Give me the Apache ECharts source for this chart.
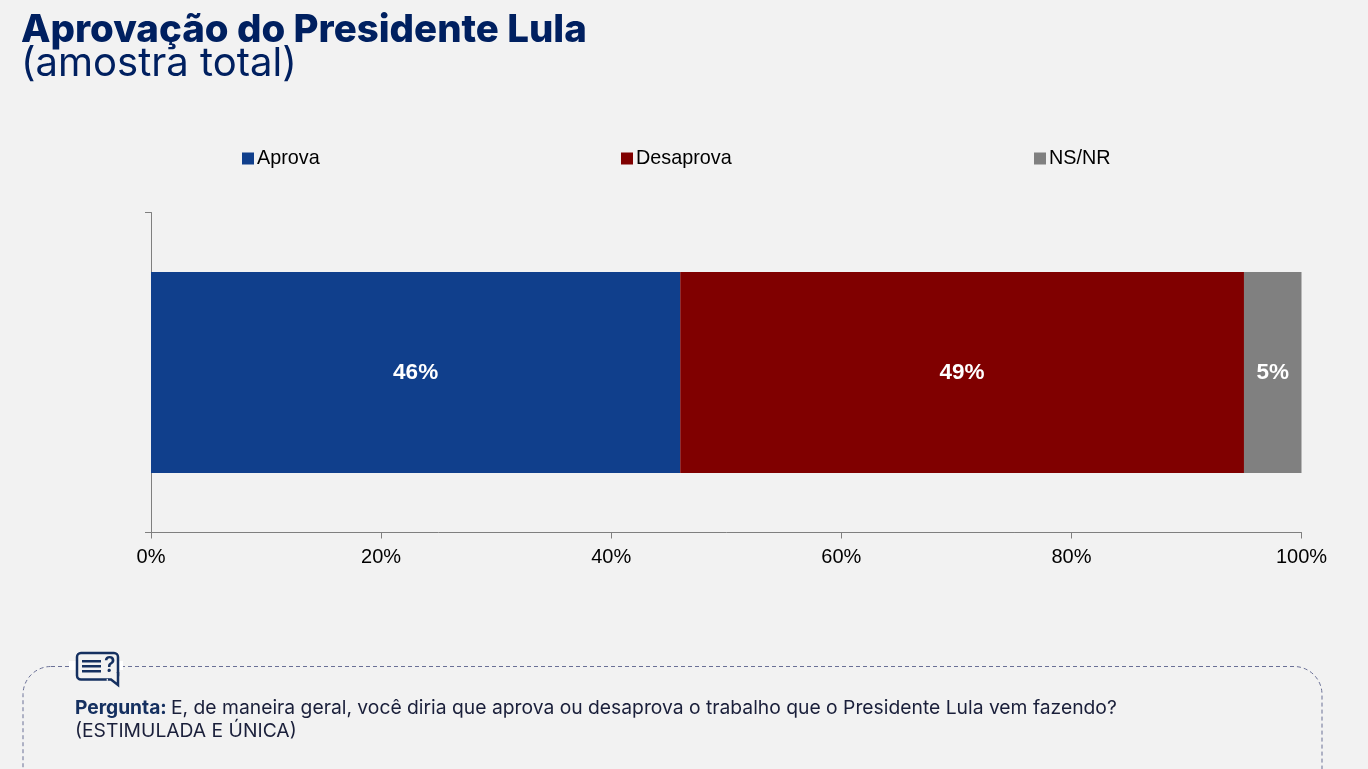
<!DOCTYPE html>
<html><head><meta charset="utf-8">
<style>html,body{margin:0;padding:0;background:#f2f2f2;overflow:hidden}#c{width:1368px;height:769px}</style>
<script src="https://cdn.jsdelivr.net/npm/echarts@6/dist/echarts.min.js"></script>
</head><body><div id="c"></div>
<script>
const categories = ['Total'];
const seriesNames = ['Aprova','Desaprova','NS/NR'];
const aprova = [46];
const desaprova = [49];
const nsnr = [5];
const colors = ['#103F8C','#800000','#808080'];
const xTicks = [0,20,40,60,80,100];
const navy = '#002060';
const iconNavy = '#153060';
const chart = echarts.init(document.getElementById('c'),null,{renderer:'canvas'});
const legendLefts = [242,621,1034];
chart.setOption({
  animation:false,
  backgroundColor:'#f2f2f2',
  legend:seriesNames.map((n,i)=>({data:[n],left:legendLefts[i],top:148.5,itemWidth:12,itemHeight:12,itemGap:3,icon:'rect',padding:0,
    textStyle:{fontFamily:'Liberation Sans',fontSize:19.8,color:'#000',padding:[0,0,0,-2]}})),
  grid:{left:151,width:1150.5,top:212.5,height:320,containLabel:false},
  xAxis:{type:'value',min:0,max:100,interval:20,splitLine:{show:false},
    axisLine:{show:true,lineStyle:{color:'#7f7f7f',width:1}},
    axisTick:{show:true,length:6,lineStyle:{color:'#7f7f7f'}},
    axisLabel:{formatter:v=>xTicks.includes(v)?v+'%':'',fontFamily:'Liberation Sans',fontSize:20,color:'#000',margin:15,hideOverlap:false}},
  yAxis:{type:'category',data:categories,
    axisLine:{show:true,lineStyle:{color:'#7f7f7f',width:1}},
    axisTick:{show:true,length:6,lineStyle:{color:'#7f7f7f'}},
    axisLabel:{show:false}},
  series:[aprova,desaprova,nsnr].map((d,i)=>({
    name:seriesNames[i],type:'bar',stack:'t',data:d,barWidth:201,
    itemStyle:{color:colors[i]},
    label:{show:true,position:'inside',offset:[0,0],formatter:'{c}%',color:'#fff',fontFamily:'Liberation Sans',fontWeight:'bold',fontSize:22.5}
  })),
  graphic:[
    {type:'text',z:4,left:21,top:11,style:{text:'Aprovação do Presidente Lula',font:'800 38.4px Inter',fill:navy}},
    {type:'text',z:4,left:21,top:44,style:{text:'(amostra total)',font:'400 40px Inter',fill:navy}},
    {type:'rect',z:1,shape:{x:23,y:666.5,width:1299,height:180,r:28},style:{fill:'none',stroke:'#6a7096',lineWidth:1,lineDash:[4,3]}},
    {type:'rect',z:2,shape:{x:69,y:661,width:54,height:9},style:{fill:'#ffffff'}},
    {type:'rect',z:3,shape:{x:77,y:653,width:41,height:26.5,r:4},style:{fill:'#f2f2f2',stroke:iconNavy,lineWidth:2.5}},
    {type:'polygon',z:3,shape:{points:[[106,680],[118,686],[118,672]]},style:{fill:'#f2f2f2'}},
    {type:'polyline',z:3,shape:{points:[[108,679.5],[111,679.5],[118,685],[118,672]]},style:{fill:'none',stroke:iconNavy,lineWidth:2.5}},
    {type:'rect',z:4,shape:{x:82,y:660,width:19,height:2.5},style:{fill:iconNavy}},
    {type:'rect',z:4,shape:{x:82,y:665,width:19,height:2.5},style:{fill:iconNavy}},
    {type:'rect',z:4,shape:{x:82,y:670,width:19,height:2.5},style:{fill:iconNavy}},
    {type:'text',z:4,left:104,top:655,style:{text:'?',font:'600 21px Inter',fill:iconNavy}},
    {type:'text',z:4,left:75,top:699,style:{text:'Pergunta:',font:'bold 19.2px Inter',fill:iconNavy}},
    {type:'text',z:4,left:171,top:699,style:{text:'E, de maneira geral, você diria que aprova ou desaprova o trabalho que o Presidente Lula vem fazendo?',font:'19.3px Inter',fill:'#1a1f3a'}},
    {type:'text',z:4,left:75,top:722,style:{text:'(ESTIMULADA E ÚNICA)',font:'19.3px Inter',fill:'#1a1f3a'}}
  ]
});
</script></body></html>
